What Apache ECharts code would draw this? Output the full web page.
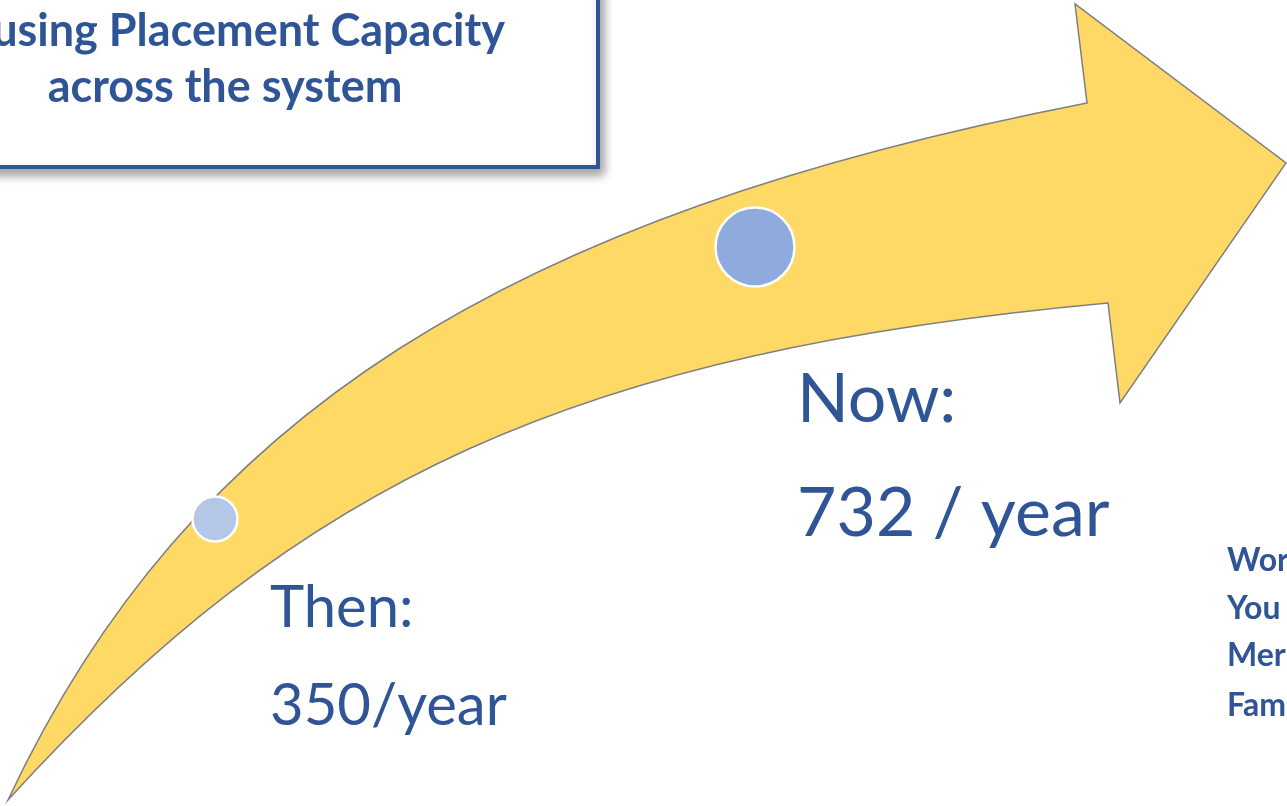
<!DOCTYPE html>
<html>
<head>
<meta charset="utf-8">
<script src="https://cdn.jsdelivr.net/npm/echarts@6/dist/echarts.min.js"></script>
<style>
html,body{margin:0;padding:0;background:#fff;}
#chart{width:1287px;height:806px;}
</style>
</head>
<body>
<div id="chart"></div>
<script>
// ---- data ----
const categories = ['Then:', 'Now:'];
const values = [350, 732];
const valueSuffix = ['/year', ' / year'];
const markerX = [215, 755];
const markerY = [519, 247];
const markerSize = [45, 79];
const markerColors = ['#B4C7E7', '#8FAADC'];
const labelX = [270, 797];
const labelY = [657, 457];
const labelFont = [58, 68];
const labelLineHeight = [98, 114];
const titleLines = ['using Placement Capacity', 'across the system'];
const sideLines = ['Wor', 'You', 'Mer', 'Fam'];
const sideLineY = [561, 609, 656, 706];
// arrow outline control points (chart space)
const arrowUpper = [[8, 800], [189, 415], [507, 216], [1087, 103]];
const arrowHead = [[1075, 4], [1286, 163], [1120, 403], [1108, 303]];
const arrowLower = [[1108, 303], [577, 352], [302, 477], [8, 800]];

const BLUE = '#2F5597';
const chart = echarts.init(document.getElementById('chart'), null, {renderer: 'canvas'});

const graphics = [
  {
    type: 'rect', z: 10,
    shape: {x: -20, y: -20, width: 618, height: 187},
    style: {fill: '#ffffff', stroke: BLUE, lineWidth: 4,
      shadowBlur: 10, shadowOffsetX: 4, shadowOffsetY: 6, shadowColor: 'rgba(0,0,0,0.35)'}
  },
  {
    type: 'text', z: 11, x: 505, y: 31,
    style: {text: titleLines[0], fill: BLUE, font: 'bold 45px Lato', textAlign: 'right', textVerticalAlign: 'middle'}
  },
  {
    type: 'text', z: 11, x: 225, y: 87,
    style: {text: titleLines[1], fill: BLUE, font: 'bold 45px Lato', textAlign: 'center', textVerticalAlign: 'middle'}
  }
];
sideLines.forEach((t, i) => {
  graphics.push({
    type: 'text', z: 11, x: 1227, y: sideLineY[i],
    style: {text: t, fill: BLUE, font: 'bold 32px Lato', textAlign: 'left', textVerticalAlign: 'middle'}
  });
});

const option = {
  animation: false,
  backgroundColor: '#ffffff',
  grid: {left: 0, right: 0, top: 0, bottom: 0},
  xAxis: {type: 'value', min: 0, max: 1287, show: false},
  yAxis: {type: 'value', min: 0, max: 806, inverse: true, show: false},
  graphic: graphics,
  series: [
    {
      type: 'custom',
      z: 1,
      data: [0],
      renderItem: function (params, api) {
        const p = a => api.coord(a);
        const u = arrowUpper.map(p), h = arrowHead.map(p), l = arrowLower.map(p);
        let d = 'M' + u[0][0] + ' ' + u[0][1];
        d += ' C' + u[1].join(' ') + ' ' + u[2].join(' ') + ' ' + u[3].join(' ');
        h.forEach(pt => { d += ' L' + pt[0] + ' ' + pt[1]; });
        d += ' C' + l[1].join(' ') + ' ' + l[2].join(' ') + ' ' + l[3].join(' ');
        d += ' Z';
        return {
          type: 'path',
          shape: {pathData: d},
          style: {fill: '#FFD966', stroke: '#7F7F7F', lineWidth: 1.5, lineJoin: 'miter'}
        };
      }
    },
    {
      type: 'scatter',
      z: 3,
      itemStyle: {opacity: 1},
      data: values.map((v, i) => ({
        value: [markerX[i], markerY[i], v],
        symbolSize: markerSize[i],
        itemStyle: {color: markerColors[i], borderColor: '#ffffff', borderWidth: 2.5, opacity: 1}
      })),
      label: {show: false}
    },
    {
      type: 'scatter',
      z: 4,
      symbolSize: 0,
      itemStyle: {opacity: 1},
      data: values.map((v, i) => ({
        value: [labelX[i], labelY[i], v],
        label: {
          show: true,
          position: [0, 0],
          align: 'left',
          verticalAlign: 'middle',
          formatter: categories[i] + '\n' + v + valueSuffix[i],
          color: BLUE,
          opacity: 1,
          fontFamily: 'Lato',
          fontSize: labelFont[i],
          lineHeight: labelLineHeight[i]
        }
      }))
    }
  ]
};
chart.setOption(option);
</script>
</body>
</html>
